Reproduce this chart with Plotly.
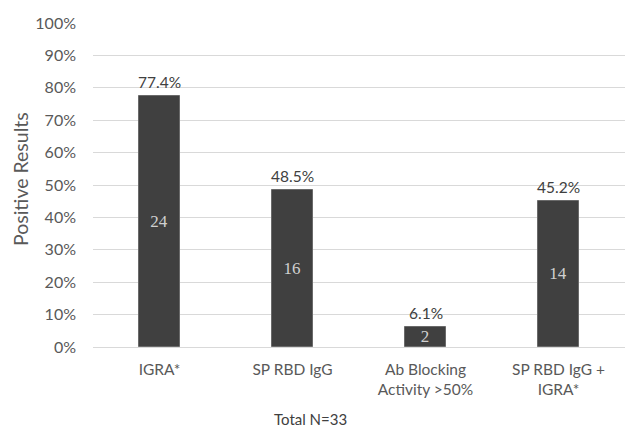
import plotly.graph_objects as go

# Share of participants with a positive result per assay (N=33)
categories = ["IGRA*", "SP RBD IgG", "Ab Blocking<br>Activity >50%", "SP RBD IgG +<br>IGRA*"]
percent_positive = [77.4, 48.5, 6.1, 45.2]
positive_counts = [24, 16, 2, 14]
y_ticks = [0, 10, 20, 30, 40, 50, 60, 70, 80, 90, 100]
y_tick_labels = [f"{t}%" for t in y_ticks]
y_title = "Positive Results"
footnote = "Total N=33"

FONT = "Lato, 'Open Sans', sans-serif"
GRAY = "#595959"

# plot area in pixels: x 93..625, y 23..347
PLOT_L, PLOT_T, PLOT_W, PLOT_H = 93, 23, 532, 324


def px_to_paper(px, py):
    return (px - PLOT_L) / PLOT_W, (PLOT_T + PLOT_H - py) / PLOT_H


fig = go.Figure()
fig.add_trace(go.Bar(
    x=categories,
    y=percent_positive,
    width=0.31,
    marker=dict(color="#404040", line=dict(color="#6a6a6a", width=1)),
    text=[str(c) for c in positive_counts],
    textposition="inside",
    insidetextanchor="middle",
    textangle=0,
    constraintext="none",
    textfont=dict(family="'Liberation Serif', 'DejaVu Serif', serif", size=17, color="#d0d0d0"),
    hoverinfo="skip",
))

# Percentage labels above each bar
for cat, val in zip(categories, percent_positive):
    fig.add_annotation(
        x=cat, y=val, text=f"{val}%", showarrow=False,
        yanchor="bottom", yshift=3,
        font=dict(family=FONT, size=15.5, color="#404040"),
    )

# Footnote under the category labels
fx, fy = px_to_paper(310, 419)
fig.add_annotation(
    xref="paper", yref="paper", x=fx, y=fy,
    text=footnote, showarrow=False,
    xanchor="center", yanchor="middle",
    font=dict(family=FONT, size=15, color="#404040"),
)

# Vertical axis title
tx, ty = px_to_paper(20, 179)
fig.add_annotation(
    xref="paper", yref="paper", x=tx, y=ty,
    text=y_title, showarrow=False, textangle=-90,
    xanchor="center", yanchor="middle",
    font=dict(family=FONT, size=19.5, color=GRAY),
)

fig.update_layout(
    width=625, height=428,
    margin=dict(l=PLOT_L, r=0, t=PLOT_T, b=428 - PLOT_T - PLOT_H),
    paper_bgcolor="white", plot_bgcolor="white",
    showlegend=False,
    bargap=0,
    uniformtext=dict(minsize=17, mode="show"),
    font=dict(family=FONT, color=GRAY),
    xaxis=dict(
        range=[-0.5, 3.5], showgrid=False, showline=False, zeroline=False,
        tickfont=dict(family=FONT, size=15.5, color=GRAY), ticks="",
        ticklabelstandoff=11,
    ),
    yaxis=dict(
        range=[0, 100], tickvals=y_ticks, ticktext=y_tick_labels,
        showgrid=True, gridcolor="#d9d9d9", gridwidth=1,
        zeroline=True, zerolinecolor="#d9d9d9", zerolinewidth=1,
        showline=False, ticks="",
        tickfont=dict(family=FONT, size=16, color=GRAY),
        ticklabelstandoff=16,
    ),
)

fig.write_html("out.html")
